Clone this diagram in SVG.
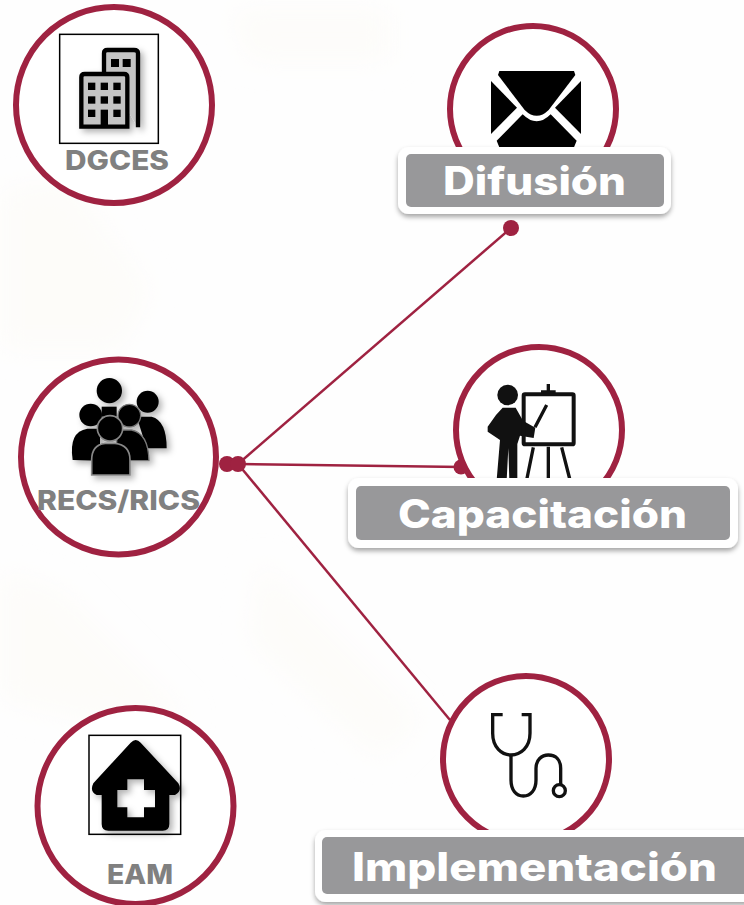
<svg xmlns="http://www.w3.org/2000/svg" width="744" height="905" viewBox="0 0 744 905">
<style>
.ring{fill:#fff;stroke:#9f2241;stroke-width:6}
.link{stroke:#9f2241;stroke-width:2.5;fill:none}
.dot{fill:#9f2241}
.plate{fill:#fff;filter:url(#plate)}
.bar{fill:#98989a}
.big{font-family:Inter,"Liberation Sans",sans-serif;font-weight:800;font-size:39px;fill:#fff}
.small{font-family:Inter,"Liberation Sans",sans-serif;font-weight:800;font-size:27px;fill:#808080}
.frame{fill:none;stroke:#000;stroke-width:4.5}
</style>
<defs>
<filter id="plate" x="-10%" y="-20%" width="120%" height="150%"><feDropShadow dx="0" dy="3" stdDeviation="2.5" flood-color="#000" flood-opacity=".35"/></filter>
<filter id="icon" x="-20%" y="-20%" width="150%" height="150%"><feGaussianBlur in="SourceGraphic" stdDeviation="2" result="b"/><feDropShadow in="b" dx="10" dy="10" stdDeviation="9" flood-color="#000" flood-opacity=".3"/></filter>
<filter id="soft" x="-20%" y="-20%" width="140%" height="140%"><feGaussianBlur stdDeviation="14"/></filter>
</defs>
<rect width="744" height="905" fill="#fefefe"/>
<g id="background" fill="#fdfcf9" filter="url(#soft)">
<path d="M0 190L70 180L150 290L120 350L0 350Z"/>
<path d="M0 570L60 590L190 720L90 720L0 700Z"/>
<path d="M230 10L390 10L390 60L250 60Z"/>
<path d="M260 560L420 720L380 760L250 640Z"/>
</g>
<g id="connectors">
<path class="link" d="M238 464L511 228"/>
<path class="link" d="M238 464L462 467"/>
<path class="link" d="M238 464L450 720"/>
<circle class="dot" cx="227" cy="464" r="8"/>
<circle class="dot" cx="238" cy="464" r="8"/>
<circle class="dot" cx="511" cy="228" r="8"/>
<circle class="dot" cx="461" cy="467" r="7.5"/>
</g>
<g id="dgces">
<circle class="ring" cx="114" cy="105" r="98"/>
<g transform="scale(.33333)">
<g filter="url(#icon)">
<path d="M312 218V160Q312 150 322 150H402Q414 150 414 160V382" fill="#c4c4c4" stroke="#000" stroke-width="13"/>
<path d="M244 380V232Q244 222 254 222H372Q382 222 382 232V380Z" fill="#c4c4c4" stroke="#000" stroke-width="13"/>
<g fill="#000"><rect x="333" y="177" width="24" height="24"/><rect x="368" y="177" width="24" height="24"/>
<rect x="264" y="248" width="22" height="22"/><rect x="302" y="248" width="22" height="22"/><rect x="340" y="248" width="22" height="22"/>
<rect x="264" y="289" width="22" height="22"/><rect x="302" y="289" width="22" height="22"/><rect x="340" y="289" width="22" height="22"/>
<rect x="264" y="329" width="22" height="22"/><rect x="302" y="329" width="22" height="52"/><rect x="340" y="329" width="22" height="22"/></g>
</g>
<rect class="frame" x="179" y="103" width="296" height="327"/>
</g>
<text class="small" x="65" y="170" textLength="104" lengthAdjust="spacingAndGlyphs">DGCES</text>
</g>
<g id="difusion">
<circle class="ring" cx="533" cy="109" r="83"/>
<g transform="translate(390,10) scale(.33333)" fill="#000">
<path d="M328 183H552L556 195L476 300Q440 335 404 300L324 195Z"/>
<path d="M303 213L381 293L303 372Z"/>
<path d="M573 213L495 293L573 372Z"/>
<path d="M328 412L320 392L398 313Q440 355 482 313L560 392L552 412Z"/>
</g>
<rect class="plate" x="398" y="147" width="273" height="67" rx="11"/>
<rect class="bar" x="406" y="154" width="258" height="53" rx="5"/>
<text class="big" x="443" y="195" textLength="183" lengthAdjust="spacingAndGlyphs">Difusión</text>
</g>
<g id="recs">
<circle class="ring" cx="118.500" cy="457" r="97.500"/>
<g transform="translate(0,350) scale(.33333)">
<g filter="url(#icon)">
<circle cx="443" cy="155" r="33"/>
<path d="M410 200H455Q500 212 500 295H440Z"/>
<circle cx="328" cy="122" r="38"/>
<path d="M305 170H350V200H305Z"/>
<circle cx="272" cy="195" r="34"/>
<path d="M218 330Q205 245 262 236H300V332Z"/>
<circle cx="388" cy="197" r="34" stroke="#777" stroke-width="4"/>
<path d="M350 240H395Q445 250 447 332H350Z" stroke="#777" stroke-width="4"/>
<path d="M275 375V330Q275 285 315 280H345Q390 285 390 330V375Z" stroke="#888" stroke-width="5"/>
<circle cx="330" cy="235" r="38" stroke="#888" stroke-width="5"/>
</g>
</g>
<text class="small" x="37" y="510" textLength="163" lengthAdjust="spacingAndGlyphs">RECS/RICS</text>
</g>
<g id="capacitacion">
<circle class="ring" cx="539" cy="430" r="83"/>
<g transform="translate(340,340) scale(.33333)" fill="#111">
<circle cx="503" cy="165" r="31"/>
<path d="M488 203H527L549 242L586 263L581 294L540 287L532 312V420H508L505 325L500 420H470L480 300L443 275V260L468 225Z"/>
<rect x="551" y="163" width="150" height="150" rx="4" fill="none" stroke="#111" stroke-width="12"/>
<path d="M625 132V160M603 156H647M580 322L560 420M625 320V420M665 322L690 420M620 195L585 262" fill="none" stroke="#111" stroke-width="10"/>
</g>
<rect class="plate" x="348" y="478" width="390" height="70" rx="11"/>
<rect class="bar" x="356" y="486" width="374" height="54" rx="5"/>
<text class="big" x="398" y="528" textLength="289" lengthAdjust="spacingAndGlyphs">Capacitación</text>
</g>
<g id="implementacion">
<circle class="ring" cx="526" cy="759" r="83"/>
<g transform="translate(310,670) scale(.33333)" fill="none" stroke="#111" stroke-width="10">
<path d="M578 134H548V190C548 232 575 255 603 255C632 255 660 232 660 190V134H635"/>
<path d="M603 255V330C603 360 618 378 640 378C662 378 678 360 678 330V295C678 270 695 255 715 255C738 255 752 270 752 295V342"/>
<circle cx="748" cy="362" r="18"/>
</g>
<rect class="plate" x="315" y="830" width="460" height="72" rx="11"/>
<rect class="bar" x="322" y="837" width="450" height="57" rx="5"/>
<text class="big" x="352" y="881" textLength="365" lengthAdjust="spacingAndGlyphs">Implementación</text>
</g>
<g id="eam">
<circle class="ring" cx="135.500" cy="806" r="98"/>
<g transform="translate(20,700) scale(.33333)">
<path filter="url(#icon)" fill-rule="evenodd" d="M347 120Q355 120 362 128L475 250Q488 272 465 285H448V372Q448 392 428 392H265Q245 392 245 372V285H230Q208 275 220 250L332 128Q340 120 347 120ZM322 238V270H292V322H322V352H372V322H405V270H372V238Z"/>
<rect class="frame" x="207" y="106" width="275" height="297"/>
</g>
<text class="small" x="107" y="884" textLength="66" lengthAdjust="spacingAndGlyphs">EAM</text>
</g>
</svg>
